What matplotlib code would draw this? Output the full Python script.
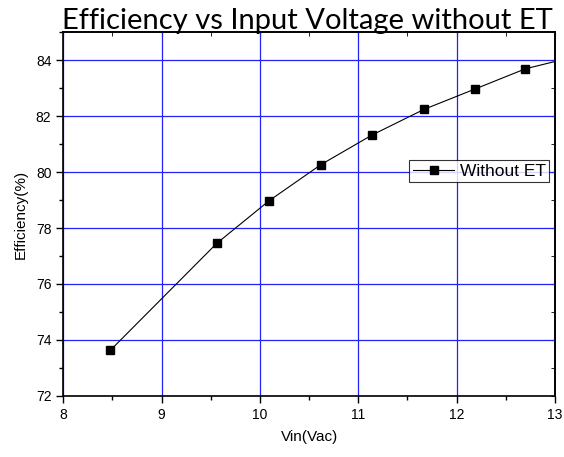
import numpy as np
import matplotlib
matplotlib.use("Agg")
import matplotlib.pyplot as plt
from matplotlib.ticker import MultipleLocator

vin = [8.48, 9.56, 10.09, 10.62, 11.14, 11.67, 12.19, 12.70, 13.22]
efficiency = [73.63, 77.45, 78.97, 80.27, 81.33, 82.25, 82.98, 83.70, 84.15]

titel = 'Efficiency vs Input Voltage without ET'
x_label = 'Vin(Vac)'
y_label = 'Efficiency(%)'
legende = 'Without ET'

plt.rcParams['font.family'] = ['Liberation Sans', 'DejaVu Sans']

fig = plt.figure(figsize=(5.64, 4.57), dpi=100)
ax = fig.add_axes([0.1122, 0.1341, 0.8718, 0.7949])

# Gitter in blau
ax.set_axisbelow(True)
ax.grid(True, which='major', color='#2222ff', linewidth=0.9)

ax.plot(vin, efficiency, color='black', linewidth=0.8, marker='s',
        markersize=6.3, markerfacecolor='black', markeredgecolor='black',
        label=legende)

ax.set_xlim(8, 13)
ax.set_ylim(72, 85)
ax.xaxis.set_major_locator(MultipleLocator(1))
ax.xaxis.set_minor_locator(MultipleLocator(0.5))
ax.yaxis.set_major_locator(MultipleLocator(2))
ax.yaxis.set_minor_locator(MultipleLocator(1))

ax.tick_params(which='both', direction='out', top=False, right=False,
               labelsize=10, width=1.0)
ax.tick_params(which='major', length=5)
ax.tick_params(which='minor', length=3)

# Ticks innen oben / rechts
sec_x = ax.secondary_xaxis('top')
sec_x.xaxis.set_major_locator(MultipleLocator(1))
sec_x.xaxis.set_minor_locator(MultipleLocator(0.5))
sec_x.tick_params(which='both', direction='in', labeltop=False, length=3)
sec_y = ax.secondary_yaxis('right')
sec_y.yaxis.set_major_locator(MultipleLocator(2))
sec_y.yaxis.set_minor_locator(MultipleLocator(1))
sec_y.tick_params(which='both', direction='in', labelright=False, length=3)

for s in ax.spines.values():
    s.set_linewidth(1.2)
sec_x.spines['top'].set_linewidth(1.2)
sec_y.spines['right'].set_linewidth(1.2)

ax.set_xlabel(x_label, fontsize=11, labelpad=6)
ax.set_ylabel(y_label, fontsize=11, labelpad=6)

fig.text(0.545, 0.9365, titel, family=['Lato', 'DejaVu Sans'], fontsize=21,
         ha='center', va='baseline')

leg = ax.legend(loc='upper right', bbox_to_anchor=(0.988, 0.649),
                fontsize=12.5, frameon=True, fancybox=False, handlelength=2.4,
                handletextpad=0.3, borderpad=0.2, borderaxespad=0)
leg.get_frame().set_edgecolor('black')
leg.get_frame().set_linewidth(0.8)

plt.savefig('out.png', dpi=100)
